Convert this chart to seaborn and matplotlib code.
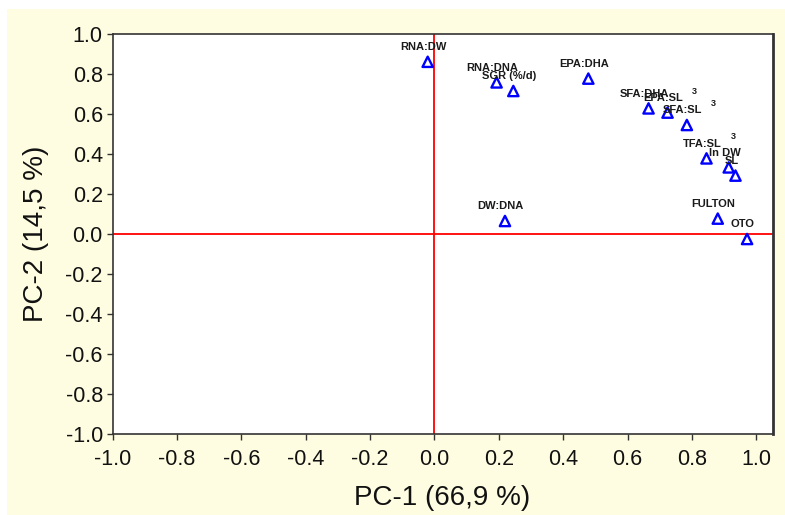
import matplotlib
matplotlib.use("Agg")
import matplotlib.pyplot as plt
import seaborn as sns
import pandas as pd
from matplotlib.patches import Rectangle

# loadings
names = ["RNA:DW", "RNA:DNA", "SGR (%/d)", "EPA:DHA", "SFA:DHA", "EPA:SL",
         "SFA:SL", "TFA:SL", "ln DW", "SL", "DW:DNA", "FULTON", "OTO"]
pc1 = [-0.021, 0.193, 0.245, 0.478, 0.665, 0.724,
       0.784, 0.845, 0.914, 0.935, 0.219, 0.880, 0.971]
pc2 = [0.861, 0.758, 0.715, 0.777, 0.628, 0.607,
       0.545, 0.378, 0.333, 0.292, 0.065, 0.077, -0.025]
# labels carrying a stray superscript "3"
cubed = ["EPA:SL", "SFA:SL", "TFA:SL"]
ticks = [-1.0, -0.8, -0.6, -0.4, -0.2, 0.0, 0.2, 0.4, 0.6, 0.8, 1.0]

df = pd.DataFrame({"name": names, "pc1": pc1, "pc2": pc2})

sns.set_style("white")
plt.rcParams["font.family"] = ["Liberation Sans", "DejaVu Sans"]

fig = plt.figure(figsize=(7.85, 5.15), dpi=100, facecolor="white")
fig.patches.append(Rectangle((7 / 785, 0), 1, 1 - 9 / 515, transform=fig.transFigure,
                             facecolor="#FFFDE1", edgecolor="none", zorder=-10))
ax = fig.add_axes([112.5 / 785, 1 - 434 / 515, 660 / 785, 400 / 515])
ax.set_facecolor("white")

ax.axhline(0, color="#FF0000", lw=1.3, zorder=1)
ax.axvline(0, color="#FF0000", lw=1.3, zorder=1)

sns.scatterplot(data=df, x="pc1", y="pc2", marker="^", s=55, facecolor="none",
                edgecolor="#0000FF", linewidth=1.7, ax=ax, zorder=3)

for n, x, y in zip(names, pc1, pc2):
    ax.annotate(n, (x, y), xytext=(-3, 10.5), textcoords="offset points",
                ha="center", va="center", fontsize=8, fontweight="bold", color="#1a1a1a")
    if n in cubed:
        ax.annotate("3", (x, y), xytext=(19, 15.5), textcoords="offset points",
                    ha="center", va="center", fontsize=6.5, fontweight="bold", color="#1a1a1a")

ax.set_xlim(-1.0, 1.05)
ax.set_ylim(-1.0, 1.0)
ax.set_xticks(ticks)
ax.set_yticks(ticks)
ax.set_xticklabels([f"{t:.1f}" for t in ticks])
ax.set_yticklabels([f"{t:.1f}" for t in ticks])
ax.tick_params(axis="both", direction="out", length=4, width=1, color="#333333",
               labelsize=15.5, labelcolor="#111111")
ax.tick_params(axis="x", pad=6.5, bottom=True)
ax.tick_params(axis="y", pad=3, left=True)
for s in ax.spines.values():
    s.set_visible(True)
    s.set_color("#333333")
    s.set_linewidth(1.2)
ax.spines["right"].set_linewidth(2)

ax.set_xlabel("PC-1 (66,9 %)", fontsize=20, labelpad=11, color="#111111")
ax.set_ylabel("PC-2 (14,5 %)", fontsize=20, labelpad=12, color="#111111")

fig.savefig("out.png", dpi=100, facecolor=fig.get_facecolor())
